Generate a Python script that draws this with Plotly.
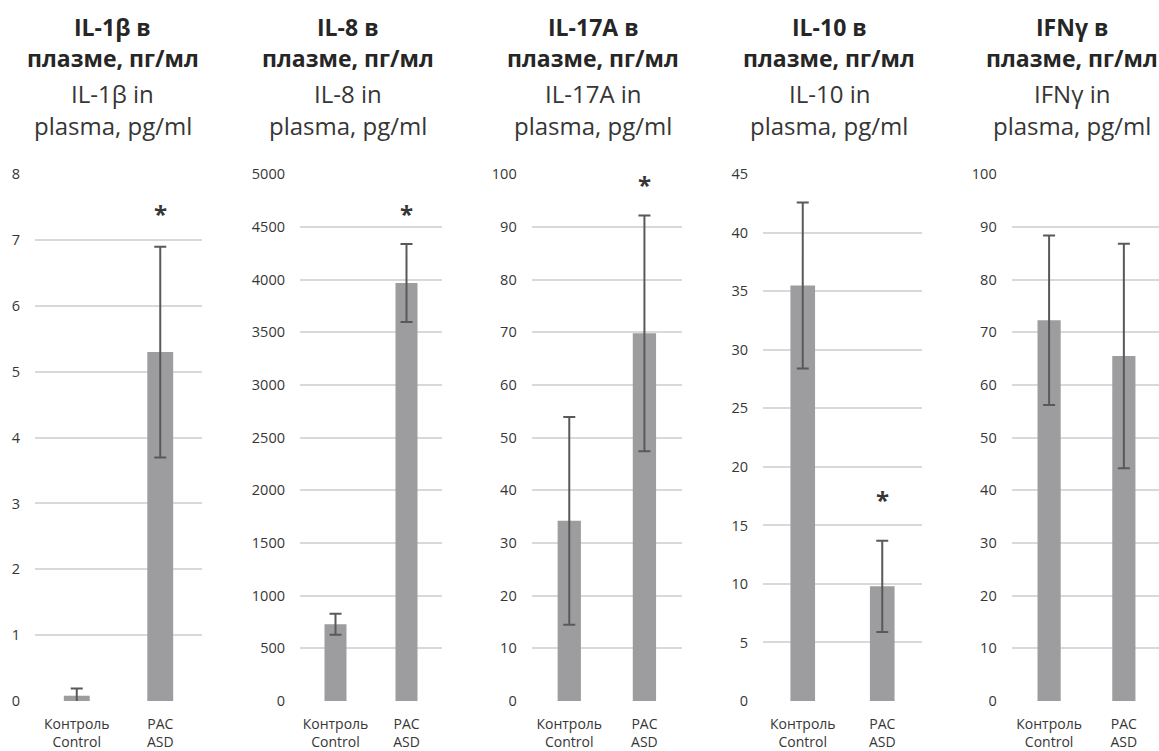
import plotly.graph_objects as go

# ---- data ----
categories = ["Контроль<br>Control", "РАС<br>ASD"]
titles_ru_1 = ["IL-1β в", "IL-8 в", "IL-17A в", "IL-10 в", "IFNγ в"]
titles_ru_2 = ["плазме, пг/мл"] * 5
titles_en_1 = ["IL-1β in", "IL-8 in", "IL-17A in", "IL-10 in", "IFNγ in"]
titles_en_2 = ["plasma, pg/ml"] * 5
il1b = [0.08, 5.3]
il1b_err = [0.11, 1.6]
il8 = [728, 3968]
il8_err = [100, 370]
il17a = [34.2, 69.8]
il17a_err = [19.7, 22.4]
il10 = [35.5, 9.8]
il10_err = [7.1, 3.9]
ifng = [72.3, 65.5]
ifng_err = [16.1, 21.3]
sig_y = [7.4, 4630, 98.0, 17.2, None]     # asterisk position above ASD bar
y_max = [8, 5000, 100, 45, 100]
y_dtick = [1, 500, 10, 5, 10]

series = [il1b, il8, il17a, il10, ifng]
errors = [il1b_err, il8_err, il17a_err, il10_err, ifng_err]

# ---- layout geometry ----
W, H = 1159, 751
x_dom_px = [(35, 202), (300, 442), (531.7, 682), (763, 922), (1011.7, 1159)]
x_rng = [(-0.5, 1.5), (-0.5, 1.5), (-0.5, 1.5), (-0.5, 1.5), (-0.5, 1.47)]
title_cx = [112.5, 348, 593, 829, 1072]
title_cy = [27.5, 58, 93.5, 125.5]
y_bot_px, y_top_px = 701, 174.3

BAR = "#9d9d9f"
ERR = "#595959"
GRID = "#d9d9d9"
TXT = "#363636"
FONT = "Open Sans"

fig = go.Figure()
layout = dict(width=W, height=H, margin=dict(l=0, r=0, t=0, b=0, pad=0, autoexpand=False),
              paper_bgcolor="white", plot_bgcolor="white", showlegend=False,
              font=dict(family=FONT, color=TXT))
annotations = []
for i in range(5):
    n = "" if i == 0 else str(i + 1)
    fig.add_trace(go.Bar(
        x=[0, 1], y=series[i], marker=dict(color=BAR, line=dict(width=0)),
        error_y=dict(type="data", array=errors[i], color=ERR, thickness=2, width=6, visible=True),
        xaxis="x" + n, yaxis="y" + n, width=0.31))
    x0, x1 = x_dom_px[i]
    layout["xaxis" + n] = dict(domain=[x0 / W, x1 / W], range=list(x_rng[i]),
                               tickvals=[0, 1], ticktext=categories, showgrid=False,
                               zeroline=False, showline=False, ticks="", automargin=False,
                               tickfont=dict(size=14, color=TXT, family=FONT),
                               anchor="y" + n, fixedrange=True, ticklabelstandoff=13)
    layout["yaxis" + n] = dict(domain=[(H - y_bot_px) / H, (H - y_top_px) / H],
                               range=[0, y_max[i]], dtick=y_dtick[i], showgrid=True,
                               gridcolor=GRID, gridwidth=2, zeroline=False, showline=False,
                               ticks="", tickfont=dict(size=14.5, color=TXT, family=FONT),
                               anchor="x" + n, ticklabelstandoff=14, automargin=False)
    cx = title_cx[i] / W
    lines = [(titles_ru_1[i], True), (titles_ru_2[i], True),
             (titles_en_1[i], False), (titles_en_2[i], False)]
    for k, (txt, bold) in enumerate(lines):
        annotations.append(dict(
            x=cx, y=1 - title_cy[k] / H, xref="paper", yref="paper",
            xanchor="center", yanchor="middle", showarrow=False,
            text="<b>" + txt + "</b>" if bold else txt,
            font=dict(size=23 if bold else 24, color="#262626" if bold else TXT, family=FONT)))
    if sig_y[i] is not None:
        annotations.append(dict(x=1, y=sig_y[i], xref="x" + n, yref="y" + n,
                                xanchor="center", yanchor="middle", showarrow=False,
                                text="<b>*</b>", font=dict(size=24, color=TXT, family=FONT)))
layout["annotations"] = annotations
fig.update_layout(**layout)
fig.write_html("out.html", config={"displayModeBar": False},
               post_script="document.body.style.margin='0';document.body.style.overflow='hidden';")
